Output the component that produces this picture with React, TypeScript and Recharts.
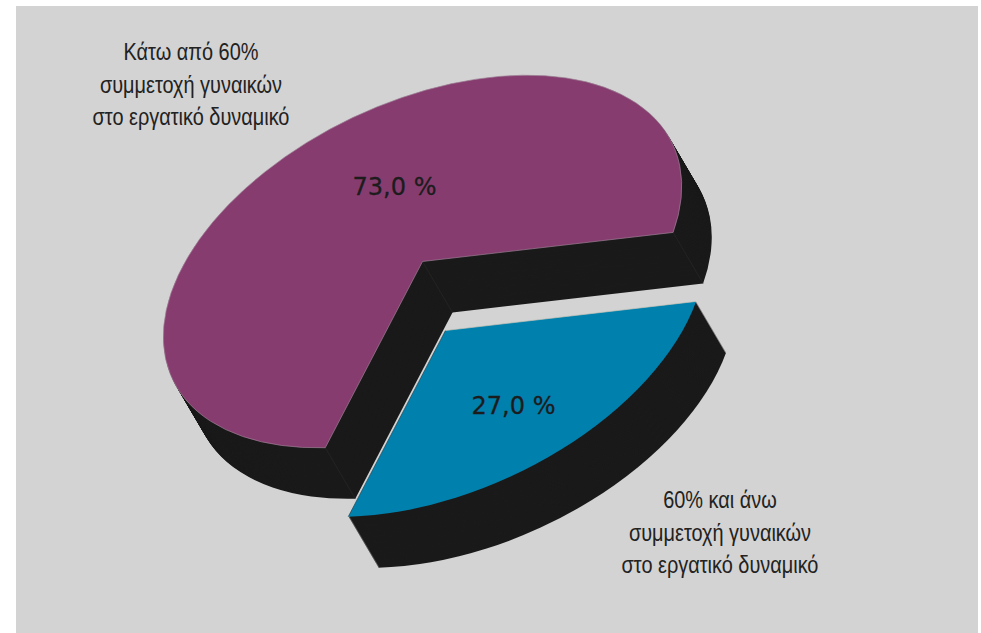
import { PieChart, Pie, Sector } from "recharts";

const shares = [73.0, 27.0];
const shareLabels = ["73,0 %", "27,0 %"];
const sliceColors = ["#873c70", "#0080ad"];
const topLabel = ["Κάτω από 60%", "συμμετοχή γυναικών", "στο εργατικό δυναμικό"];
const bottomLabel = ["60% και άνω", "συμμετοχή γυναικών", "στο εργατικό δυναμικό"];

const chartData = shares.map((value, i) => ({ name: shareLabels[i], value, fill: sliceColors[i] }));

const SIDE = "#1a1a1a";
const CX = 422.5;
const CY = 261.5;
const RADIUS = 276.3;
const TILT = -25.1; // rotation of the ellipse, degrees
const SQUASH = 0.5788;
const DEPTH = [30, 51];
const EXPLODE = [23, 69];

const RAD = Math.PI / 180;

// where a point of the flat circle lands once tilted
const project = (angle: number, r: number) => {
  const x = r * Math.cos(-angle * RAD);
  const y = r * Math.sin(-angle * RAD) * SQUASH;
  const c = Math.cos(TILT * RAD);
  const s = Math.sin(TILT * RAD);
  return [CX + x * c - y * s, CY + x * s + y * c];
};

const SliceShape = (props: any) => {
  const { startAngle, endAngle, outerRadius, fill, value } = props;
  const blue = value === shares[1];
  const ox = blue ? EXPLODE[0] : 0;
  const oy = blue ? EXPLODE[1] : 0;
  const tilted = `rotate(${TILT} ${CX} ${CY}) translate(${CX} ${CY}) scale(1 ${SQUASH}) translate(${-CX} ${-CY})`;
  const sector = { cx: CX, cy: CY, innerRadius: 0, outerRadius, startAngle, endAngle };
  const steps = Array.from({ length: DEPTH[1] }, (_, i) => DEPTH[1] - i);
  const corners = [project(startAngle, outerRadius), project(endAngle, outerRadius), [CX, CY]];

  return (
    <g transform={`translate(${ox} ${oy})`}>
      {steps.map((n) => (
        <g key={n} transform={`translate(${(DEPTH[0] * n) / DEPTH[1]} ${n}) ${tilted}`}>
          <Sector {...sector} fill={SIDE} stroke="none" />
        </g>
      ))}
      {!blue &&
        corners.map(([x, y], i) => (
          <line key={i} x1={x} y1={y} x2={x + DEPTH[0]} y2={y + DEPTH[1]} stroke="#2a2a2a" strokeWidth={0.6} />
        ))}
      <g transform={tilted}>
        <Sector {...sector} fill={fill} stroke={blue ? "none" : "#9c7f94"} strokeWidth={0.7} vectorEffect="non-scaling-stroke" />
      </g>
      {blue && (
        <line x1={CX} y1={CY} x2={corners[0][0]} y2={corners[0][1]} stroke="#24434f" strokeWidth={0.7} />
      )}
      {blue && (
        <line x1={CX} y1={CY} x2={corners[1][0]} y2={corners[1][1]} stroke="#c9c4b8" strokeWidth={0.7} />
      )}
    </g>
  );
};

const ShareLabel = (props: any) => {
  const i = props.value === shares[1] ? 1 : 0;
  return (
    <text
      x={[394.5, 513.5][i]}
      y={[195, 414][i]}
      textAnchor="middle"
      fontFamily="'DejaVu Sans'"
      fontSize={24}
      fill="#1c1c1c"
      stroke="#1c1c1c"
      strokeWidth={0.3}
    >
      {shareLabels[i]}
    </text>
  );
};

const NarrowLines = ({ lines, x, ys }: { lines: string[]; x: number; ys: number[] }) => (
  <>
    {lines.map((line, i) => (
      <text
        key={i}
        transform={`translate(${x} ${ys[i]}) scale(0.83 1)`}
        textAnchor="middle"
        fontFamily="'Liberation Sans'"
        fontSize={24}
        fill="#222"
      >
        {line}
      </text>
    ))}
  </>
);

const App = () => {
  return (
    <div style={{ position: "fixed", left: 0, top: 0, width: 981, height: 633, background: "#fff", overflow: "hidden" }}>
      <div style={{ position: "absolute", left: 16, top: 6, width: 962, height: 627, background: "#d3d3d3" }} />
      <div style={{ position: "absolute", left: 0, top: 0 }}>
        <PieChart width={981} height={633} margin={{ top: 0, right: 0, bottom: 0, left: 0 }}>
          <Pie
            data={chartData}
            dataKey="value"
            nameKey="name"
            cx={CX}
            cy={CY}
            innerRadius={0}
            outerRadius={RADIUS}
            startAngle={-30}
            endAngle={330}
            stroke="none"
            shape={SliceShape}
            label={ShareLabel}
            labelLine={false}
            isAnimationActive={false}
          />
          <NarrowLines lines={topLabel} x={191} ys={[60, 93, 125]} />
          <NarrowLines lines={bottomLabel} x={720} ys={[508, 541, 573]} />
        </PieChart>
      </div>
    </div>
  );
};

export default App;
